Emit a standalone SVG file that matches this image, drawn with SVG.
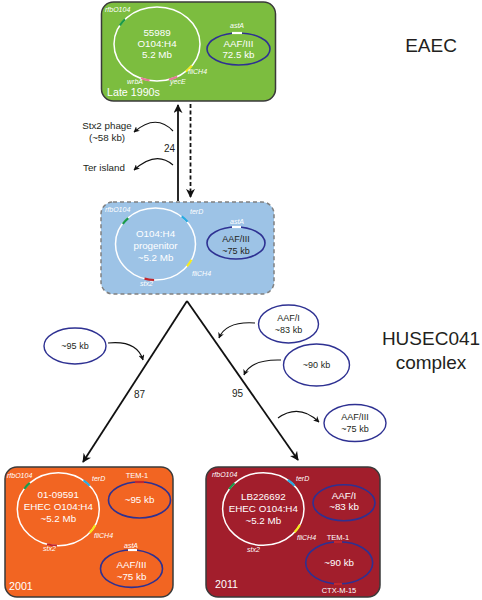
<svg xmlns="http://www.w3.org/2000/svg" width="482" height="600" viewBox="0 0 482 600">
<defs>
<style>
text{font-family:"Liberation Sans",Arial,sans-serif}
.box{stroke:#3a3a3a;stroke-width:1.5}
.chr{fill:none;stroke:#fff;stroke-width:1.5}
.pl{fill:none;stroke:#2e3192;stroke-width:1.6}
.fp{fill:#fff;stroke:#2e3192;stroke-width:1.4}
.ct{font-size:9.8px;fill:#fff;text-anchor:middle}
.pt{font-size:9.8px;fill:#fff;text-anchor:middle}
.ptk{font-size:9px;fill:#231f20;text-anchor:middle}
.gl{font-size:7px;fill:#fff;font-style:italic}
.glm{font-size:7px;fill:#fff;font-style:italic;text-anchor:middle}
.rl{font-size:7.5px;fill:#fff;text-anchor:middle}
.yr{font-size:10.7px;fill:#fff}
.big{font-size:19px;fill:#231f20;text-anchor:middle}
.lab{font-size:9.8px;fill:#231f20}
.num{font-size:10px;fill:#231f20}
.mk{fill:none;stroke-width:2.2}
.g{stroke:#1a9a48}.y{stroke:#f4eb1f}.pk{stroke:#e57d9a}.c{stroke:#29abe2}.r{stroke:#c1272d}.w{stroke:#fff}
.arr{fill:none;stroke:#111;stroke-width:1.8}
.cur{fill:none;stroke:#111;stroke-width:1.1}
</style>
<marker id="ah" viewBox="0 0 10 10" refX="9" refY="5" markerWidth="9" markerHeight="9" markerUnits="userSpaceOnUse" orient="auto">
<path d="M0,0 L10,5 L0,10 L3,5 z" fill="#111"/>
</marker>
<marker id="ahs" viewBox="0 0 10 10" refX="9" refY="5" markerWidth="6" markerHeight="6" markerUnits="userSpaceOnUse" orient="auto">
<path d="M0,0 L10,5 L0,10 L3,5 z" fill="#111"/>
</marker>
</defs>
<rect width="482" height="600" fill="#fff"/>

<g id="eaec-label"><text class="big" x="431" y="52">EAEC</text></g>
<g id="husec-label"><text class="big" x="431" y="345">HUSEC041</text><text class="big" x="431" y="369">complex</text></g>

<g id="node-eaec">
<rect class="box" x="101.5" y="2" width="174" height="99" rx="12" fill="#7cbd3f"/>
<ellipse class="chr" cx="157" cy="44" rx="43" ry="37"/>
<path class="mk g" d="M119.8,25.5 A43,37 0 0 1 125,19.2"/>
<path class="mk y" d="M191.8,65.8 A43,37 0 0 1 185.8,71.5"/>
<path class="mk pk" d="M177.2,76.7 A43,37 0 0 1 168.9,79.6"/>
<path class="mk pk" d="M149.5,80.4 A43,37 0 0 1 140.9,78.3"/>
<text class="ct" x="157" y="36">55989</text>
<text class="ct" x="157" y="47">O104:H4</text>
<text class="ct" x="157" y="58">5.2 Mb</text>
<text class="gl" x="105" y="12">rfbO104</text>
<text class="gl" x="188" y="74">fliCH4</text>
<text class="gl" x="170" y="84">yecE</text>
<text class="gl" x="127" y="84">wrbA</text>
<ellipse class="pl" cx="238.5" cy="49" rx="31.5" ry="16"/>
<path class="mk w" d="M232,33 L242,33"/>
<text class="glm" x="237" y="28">astA</text>
<text class="pt" x="238.5" y="47">AAF/III</text>
<text class="pt" x="238.5" y="58">72.5 kb</text>
<text class="yr" x="107" y="96">Late 1990s</text>
</g>

<g id="node-progenitor">
<rect x="101" y="202" width="173" height="92" rx="12" fill="#9dc3e6" stroke="#808080" stroke-width="1.5" stroke-dasharray="4 3"/>
<ellipse class="chr" cx="155.5" cy="244" rx="40" ry="36"/>
<path class="mk g" d="M122.8,223.9 A40,36 0 0 1 128.2,218.1"/>
<path class="mk c" d="M181.7,216.4 A40,36 0 0 1 187.5,221.8"/>
<path class="mk y" d="M191.5,259.8 A40,36 0 0 1 187,266.2"/>
<path class="mk r" d="M154.1,280 A40,36 0 0 1 144.5,278.6"/>
<text class="ct" x="155.5" y="237">O104:H4</text>
<text class="ct" x="155.5" y="249">progenitor</text>
<text class="ct" x="155.5" y="261">~5.2 Mb</text>
<text class="gl" x="105" y="212">rfbO104</text>
<text class="gl" x="190" y="214">terD</text>
<text class="gl" x="192" y="276">fliCH4</text>
<text class="gl" x="140" y="286">stx2</text>
<ellipse class="pl" cx="236" cy="243" rx="29" ry="16"/>
<path class="mk w" d="M232,227 L241,227"/>
<text class="glm" x="237" y="224">astA</text>
<text class="ptk" x="236" y="242">AAF/III</text>
<text class="ptk" x="236" y="254">~75 kb</text>
</g>

<g id="node-01-09591">
<rect class="box" x="5" y="467" width="168" height="130" rx="12" fill="#f26522"/>
<ellipse class="chr" cx="58.3" cy="509.2" rx="41" ry="36.5"/>
<path class="mk g" d="M24.3,488.8 A41,36.5 0 0 1 29.8,482.9"/>
<path class="mk c" d="M83.5,480.4 A41,36.5 0 0 1 89.7,485.7"/>
<path class="mk y" d="M95.2,525.2 A41,36.5 0 0 1 89.7,532.7"/>
<path class="mk r" d="M56.9,545.7 A41,36.5 0 0 1 47,544.3"/>
<text class="ct" x="58.3" y="498">01-09591</text>
<text class="ct" x="58.3" y="510">EHEC O104:H4</text>
<text class="ct" x="58.3" y="522">~5.2 Mb</text>
<text class="gl" x="7" y="478">rfbO104</text>
<text class="gl" x="92" y="481">terD</text>
<text class="gl" x="94" y="538">fliCH4</text>
<text class="gl" x="43" y="551">stx2</text>
<ellipse class="pl" cx="139.5" cy="500" rx="31" ry="18"/>
<path class="mk r" d="M135,482 L144,482"/>
<text class="rl" x="137" y="478">TEM-1</text>
<text class="pt" x="139.5" y="503">~95 kb</text>
<ellipse class="pl" cx="131.5" cy="568.7" rx="31" ry="18.7"/>
<path class="mk w" d="M128,550 L137,550"/>
<text class="glm" x="131" y="548">astA</text>
<text class="pt" x="131.5" y="568">AAF/III</text>
<text class="pt" x="131.5" y="580">~75 kb</text>
<text class="yr" x="9" y="590">2001</text>
</g>

<g id="node-LB226692">
<rect class="box" x="206" y="467" width="174" height="130" rx="12" fill="#a21e2c"/>
<ellipse class="chr" cx="263.3" cy="509" rx="40.7" ry="36.3"/>
<path class="mk g" d="M229.2,489.2 A40.7,36.3 0 0 1 234.5,483.3"/>
<path class="mk c" d="M287.8,480 A40.7,36.3 0 0 1 294.5,485.7"/>
<path class="mk y" d="M299.9,524.9 A40.7,36.3 0 0 1 294.5,532.3"/>
<text class="ct" x="263.3" y="500">LB226692</text>
<text class="ct" x="263.3" y="512">EHEC O104:H4</text>
<text class="ct" x="263.3" y="524">~5.2 Mb</text>
<text class="gl" x="212" y="477">rfbO104</text>
<text class="gl" x="296" y="481">terD</text>
<text class="gl" x="297" y="540">fliCH4</text>
<text class="gl" x="247" y="552">stx2</text>
<ellipse class="pl" cx="344" cy="502.8" rx="31" ry="18"/>
<text class="pt" x="344" y="498.5">AAF/I</text>
<text class="pt" x="344" y="510">~83 kb</text>
<ellipse class="pl" cx="339.2" cy="562.8" rx="33.5" ry="21"/>
<path class="mk r" d="M334,542 L342,542"/>
<path class="mk r" d="M334,584 L342,584"/>
<text class="rl" x="338" y="540">TEM-1</text>
<text class="pt" x="339.2" y="566">~90 kb</text>
<text class="rl" x="339" y="593">CTX-M-15</text>
<text class="yr" x="215" y="588">2011</text>
</g>

<g id="node-p95"><ellipse class="fp" cx="75" cy="346" rx="31" ry="18"/><text class="ptk" x="75" y="349">~95 kb</text></g>
<g id="node-p83"><ellipse class="fp" cx="288.5" cy="324" rx="30" ry="19"/><text class="ptk" x="288.5" y="320.5">AAF/I</text><text class="ptk" x="288.5" y="332.5">~83 kb</text></g>
<g id="node-p90"><ellipse class="fp" cx="316.5" cy="365" rx="33" ry="21"/><text class="ptk" x="316.5" y="368">~90 kb</text></g>
<g id="node-p75"><ellipse class="fp" cx="355" cy="423" rx="31" ry="18.5"/><text class="ptk" x="355" y="420">AAF/III</text><text class="ptk" x="355" y="431.5">~75 kb</text></g>
<g id="node-labels">
<text class="lab" x="107" y="129" text-anchor="middle">Stx2 phage</text>
<text class="lab" x="107" y="141" text-anchor="middle">(~58 kb)</text>
<text class="lab" x="83" y="171">Ter island</text>
</g>

<g id="connectors">
<path class="arr" d="M178,201 L178,105" marker-end="url(#ah)"/>
<path class="arr" d="M190.5,104 L190.5,197" stroke-dasharray="4 2.5" marker-end="url(#ah)"/>
<path class="arr" d="M187,301 L83,462" marker-end="url(#ah)"/>
<path class="arr" d="M187,301 L298,460" marker-end="url(#ah)"/>
<path class="cur" d="M173,131 Q156,113 134,132" marker-end="url(#ahs)"/>
<path class="cur" d="M173,165 Q156,150 134,170" marker-end="url(#ahs)"/>
<path class="cur" d="M108,343 Q137,340 143,360" marker-end="url(#ahs)"/>
<path class="cur" d="M255,323 Q226,321 219,338" marker-end="url(#ahs)"/>
<path class="cur" d="M281,360 Q251,359 244,375" marker-end="url(#ahs)"/>
<path class="cur" d="M278,418 Q299,403 319,422" marker-end="url(#ahs)"/>
<text class="num" x="164" y="152">24</text>
<text class="num" x="134" y="398">87</text>
<text class="num" x="232" y="397">95</text>
</g>
</svg>
